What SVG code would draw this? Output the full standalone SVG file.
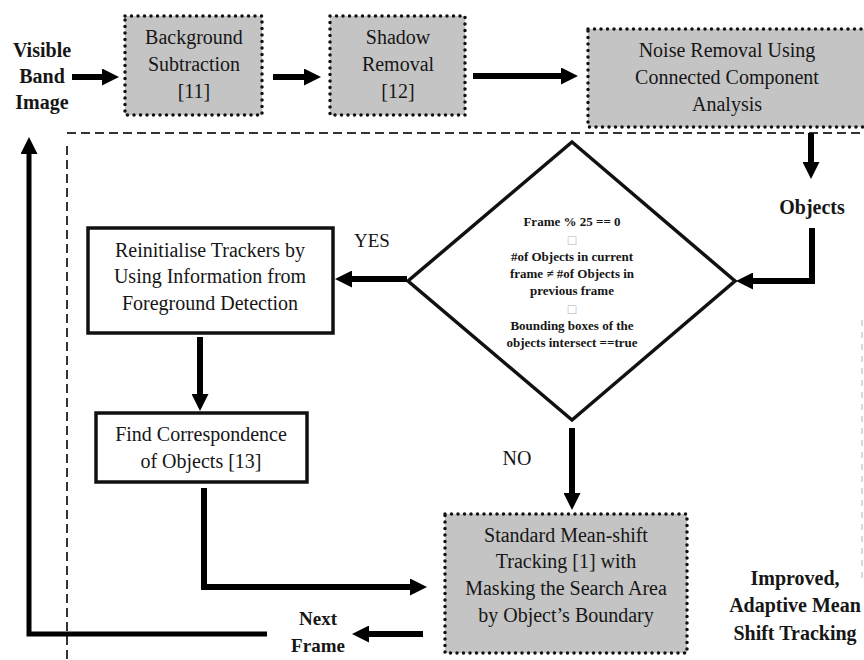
<svg xmlns="http://www.w3.org/2000/svg" width="864" height="660" viewBox="0 0 864 660">
<style>
  text { font-family: "Liberation Serif", "Times New Roman", serif; fill: #161616; text-anchor: middle; }
  .t { font-size: 20px; }
  .b { font-size: 20px; font-weight: bold; }
  .d { font-size: 13px; font-weight: bold; }
  .sq { font-size: 14px; fill: #b0b0b0; }
  .dot { fill: #c4c4c4; stroke: #111; stroke-width: 3.5; stroke-dasharray: 0 6.5; stroke-linecap: round; }
  .solid { fill: #fff; stroke: #111; stroke-width: 3.5; }
  .dia { fill: #fff; stroke: #111; stroke-width: 3.5; }
  .c { fill: none; stroke: #000; stroke-width: 6; }
  .fb { fill: none; stroke: #000; stroke-width: 5; }
  .dash { fill: none; stroke: #333; stroke-width: 2; stroke-dasharray: 9 5; }
</style>
<defs>
  <marker id="ah" markerUnits="userSpaceOnUse" markerWidth="17" markerHeight="17" refX="0" refY="8.5" orient="auto">
    <path d="M0,0 L17,8.5 L0,17 z" fill="#000"/>
  </marker>
</defs>

<g id="region">
  <path class="dash" d="M67,133 H864"/>
  <path class="dash" d="M67,146 V660"/>
  <path d="M862,320 V580" fill="none" stroke="#ccc" stroke-width="1.5" stroke-dasharray="6 6"/>
</g>

<g id="input">
  <text class="b" x="42" y="57">Visible</text>
  <text class="b" x="42" y="83">Band</text>
  <text class="b" x="42" y="109">Image</text>
</g>

<g id="bgsub">
  <rect class="dot" x="125" y="16" width="137" height="99"/>
  <text class="t" x="194" y="44">Background</text>
  <text class="t" x="194" y="71">Subtraction</text>
  <text class="t" x="194" y="98">[11]</text>
</g>

<g id="shadow">
  <rect class="dot" x="330" y="16" width="135" height="99"/>
  <text class="t" x="398" y="44">Shadow</text>
  <text class="t" x="398" y="71">Removal</text>
  <text class="t" x="398" y="98">[12]</text>
</g>

<g id="noise">
  <rect class="dot" x="588" y="29" width="280" height="98"/>
  <text class="t" x="727" y="57">Noise Removal Using</text>
  <text class="t" x="727" y="84">Connected Component</text>
  <text class="t" x="727" y="111">Analysis</text>
</g>

<g id="objects">
  <text class="b" x="812" y="214">Objects</text>
</g>

<g id="decision">
  <polygon class="dia" points="572,142 735,281 572,420 408,281"/>
  <text class="d" x="572" y="226">Frame % 25 == 0</text>
  <text class="sq" x="572" y="245">□</text>
  <text class="d" x="572" y="261">#of Objects in current</text>
  <text class="d" x="572" y="278">frame ≠ #of Objects in</text>
  <text class="d" x="572" y="295">previous frame</text>
  <text class="sq" x="572" y="314">□</text>
  <text class="d" x="572" y="330">Bounding boxes of the</text>
  <text class="d" x="572" y="347">objects intersect ==true</text>
</g>

<g id="reinit">
  <rect class="solid" x="88" y="228" width="245" height="105"/>
  <text class="t" x="210" y="257">Reinitialise Trackers by</text>
  <text class="t" x="210" y="283">Using Information from</text>
  <text class="t" x="210" y="310">Foreground Detection</text>
</g>

<g id="find">
  <rect class="solid" x="96" y="413" width="211" height="69"/>
  <text class="t" x="201" y="441">Find Correspondence</text>
  <text class="t" x="201" y="468">of Objects [13]</text>
</g>

<g id="meanshift">
  <rect class="dot" x="445" y="514" width="242" height="139"/>
  <text class="t" x="566" y="542">Standard Mean-shift</text>
  <text class="t" x="566" y="568">Tracking [1] with</text>
  <text class="t" x="566" y="595">Masking the Search Area</text>
  <text class="t" x="566" y="622">by Object’s Boundary</text>
</g>

<g id="improved">
  <text class="b" x="795" y="585">Improved,</text>
  <text class="b" x="795" y="612">Adaptive Mean</text>
  <text class="b" x="795" y="640">Shift Tracking</text>
</g>

<g id="labels">
  <text class="t" x="372" y="247" style="font-size:19px">YES</text>
  <text class="t" x="517" y="465">NO</text>
  <text class="b" x="318" y="625" style="font-size:19px">Next</text>
  <text class="b" x="318" y="652" style="font-size:19px">Frame</text>
</g>

<g id="connectors">
  <path class="c" d="M72,77 H102" marker-end="url(#ah)"/>
  <path class="c" d="M273,77 H304" marker-end="url(#ah)"/>
  <path class="c" d="M473,76 H561" marker-end="url(#ah)"/>
  <path class="c" d="M811,133 V162" marker-end="url(#ah)"/>
  <path class="c" d="M812,228 V281 H753" marker-end="url(#ah)"/>
  <path class="c" d="M407,279 H352" marker-end="url(#ah)"/>
  <path class="c" d="M200,337 V394" marker-end="url(#ah)"/>
  <path class="c" d="M204,488 V587 H410" marker-end="url(#ah)"/>
  <path class="c" d="M572,428 V493" marker-end="url(#ah)"/>
  <path class="c" d="M423,634 H369" marker-end="url(#ah)"/>
  <path class="fb" d="M267,634 H29 V154" marker-end="url(#ah)"/>
</g>
</svg>
